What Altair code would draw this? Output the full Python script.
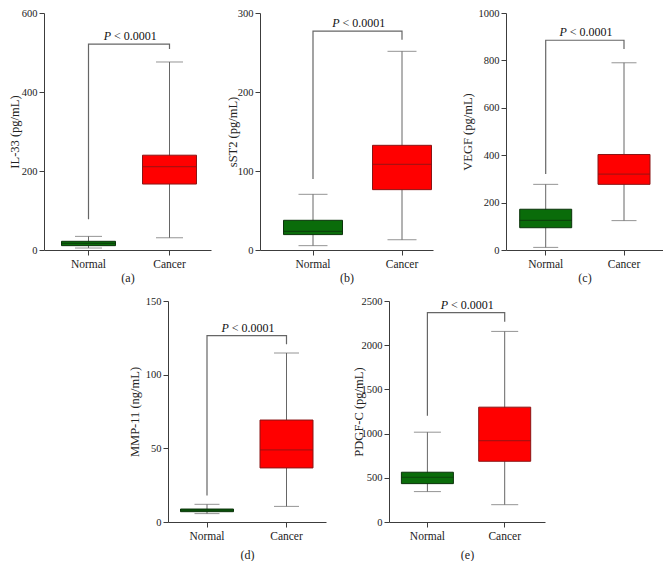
import altair as alt
import pandas as pd

# ---------------- data ----------------
groups = ["Normal", "Cancer"]
panel_tags = ["(a)", "(b)", "(c)", "(d)", "(e)"]
y_titles = ["IL-33 (pg/mL)", "sST2 (pg/mL)", "VEGF (pg/mL)", "MMP-11 (ng/mL)", "PDGF-C (pg/mL)"]
y_max = [600, 300, 1000, 150, 2500]
y_step = [200, 100, 200, 50, 500]

# per panel: [Normal, Cancer]
whisker_low = [[5, 31], [5.5, 13], [11, 124], [5.7, 10.6], [344, 196]]
q1 = [[11, 167], [19.5, 76.4], [94, 277], [7, 36.7], [434, 687]]
median = [[17, 211], [23.7, 108.4], [125, 320], [8, 48.9], [506, 921]]
q3 = [[22, 240], [37.6, 132.5], [172, 403], [8.8, 69.2], [563, 1299]]
whisker_high = [[34.5, 476], [70.5, 251.5], [277, 790], [12, 114.7], [1016, 2156]]

bracket_top = [521, 277, 885, 126.5, 2368]
bracket_leg = [[78, 509], [90, 266], [321, 848], [18, 120.6], [1201, 2266]]
p_letter = "P"
p_rest = "< 0.0001"

# ---------------- layout ----------------
plot_w = [167, 173, 157, 158, 156]
plot_h = [237, 237, 237, 221, 221]
centers = [(44.5, 125.5), (53, 142), (39.7, 118), (39, 118.5), (38.4, 115.7)]
box_w = [54, 59, 52, 53, 52]
cap_w = [27, 29, 25, 25, 27]
title_off = [34, 32, 43, 38, 35]   # distance of y-title glyphs from the axis
left_ext = [off + 2 for off in title_off]
x_title_pad = [3, 3, 3, 8, 8]

FONT = "Liberation Serif"
GREEN, RED = "#0a6c0a", "#ff0000"
GREEN_D, RED_D = "#0b330b", "#8a1515"
GRAY = "#666666"
AX = "#3c3c3c"


def panel(i):
    W, H = plot_w[i], plot_h[i]
    c0, c1 = centers[i]
    s = c1 - c0
    free = W - 1.5 * s
    xscale = alt.Scale(domain=groups, paddingInner=0.5,
                       paddingOuter=free / (2 * s), align=(c0 - 0.25 * s) / free)
    xaxis = alt.Axis(title=panel_tags[i], labelAngle=0, labelPadding=3,
                     titlePadding=x_title_pad[i], tickSize=5,
                     labelFontSize=11.5, titleFontSize=12)
    X = alt.X("group:N", sort=groups, scale=xscale, axis=xaxis)
    yscale = alt.Scale(domain=[0, y_max[i]], nice=False, zero=True)
    yaxis = alt.Axis(title=y_titles[i], values=list(range(0, y_max[i] + 1, y_step[i])),
                     format="d", tickSize=5, labelPadding=2,
                     titleX=-title_off[i] + 11, titleFontSize=12.5, labelFontSize=10.5)

    def Y(f):
        return alt.Y(f"{f}:Q", scale=yscale, axis=yaxis)

    df = pd.DataFrame({
        "group": groups,
        "low": whisker_low[i], "q1": q1[i], "median": median[i],
        "q3": q3[i], "high": whisker_high[i],
    })
    base = alt.Chart(df)
    whisk = base.mark_rule(color=GRAY, strokeWidth=1).encode(x=X, y=Y("low"), y2="high:Q")
    cap_lo = base.mark_tick(color=GRAY, size=cap_w[i], thickness=1).encode(x=X, y=Y("low"))
    cap_hi = base.mark_tick(color=GRAY, size=cap_w[i], thickness=1).encode(x=X, y=Y("high"))
    box = base.mark_bar(size=box_w[i], strokeWidth=1, opacity=1).encode(
        x=X, y=Y("q1"), y2="q3:Q",
        color=alt.Color("group:N", scale=alt.Scale(domain=groups, range=[GREEN, RED]), legend=None),
        stroke=alt.Stroke("group:N", scale=alt.Scale(domain=groups, range=[GREEN_D, RED_D]), legend=None),
    )
    med = base.mark_tick(size=box_w[i], thickness=1.2).encode(
        x=X, y=Y("median"),
        fill=alt.Fill("group:N", scale=alt.Scale(domain=groups, range=[GREEN_D, RED_D]), legend=None),
    )

    br = pd.DataFrame({
        "group": [groups[0], groups[0], groups[1], groups[1]],
        "v": [bracket_leg[i][0], bracket_top[i], bracket_top[i], bracket_leg[i][1]],
        "k": [0, 1, 2, 3],
    })
    bracket = alt.Chart(br).mark_line(color=GRAY, strokeWidth=1.2).encode(
        x=X, y=Y("v"), order="k:Q")

    tdf = pd.DataFrame({"group": [groups[0]], "v": [bracket_top[i]],
                        "p": [p_letter], "r": [p_rest]})
    tp = alt.Chart(tdf).mark_text(font=FONT, fontSize=12, fontStyle="italic", align="right",
                                  baseline="alphabetic", dx=s / 2 - 18, dy=-4, color="#111").encode(
        x=X, y=Y("v"), text="p:N")
    tr = alt.Chart(tdf).mark_text(font=FONT, fontSize=12, align="left",
                                  baseline="alphabetic", dx=s / 2 - 15, dy=-4, color="#111").encode(
        x=X, y=Y("v"), text="r:N")

    return alt.layer(whisk, cap_lo, cap_hi, box, med, bracket, tp, tr).properties(width=W, height=H)


def spacer(w):
    return alt.Chart(pd.DataFrame({"z": [0]})).mark_point(size=0, opacity=0).encode(
        x=alt.value(w / 2), y=alt.value(5)).properties(width=w, height=10)


# gaps between plot areas: a->b 49, b->c 73 ; bottom row starts 124 right of (a), d->e 63
top = alt.hconcat(panel(0), spacer(49 - left_ext[1]), panel(1),
                  spacer(73 - left_ext[2]), panel(2), spacing=0)
bottom = alt.hconcat(spacer(124 - left_ext[3]), panel(3),
                     spacer(63 - left_ext[4]), panel(4), spacing=0)

chart = alt.vconcat(top, bottom, spacing=12).properties(
    padding={"left": 0, "top": 0, "right": 0, "bottom": 0}
).configure_view(stroke=None).configure_axis(
    grid=False, domainColor=AX, tickColor=AX, domainWidth=1, tickWidth=1,
    labelFont=FONT, titleFont=FONT, labelColor="#222", titleColor="#222",
    titleFontWeight="normal"
)

chart.save("out.html", embed_options={"renderer": "svg", "actions": False})
